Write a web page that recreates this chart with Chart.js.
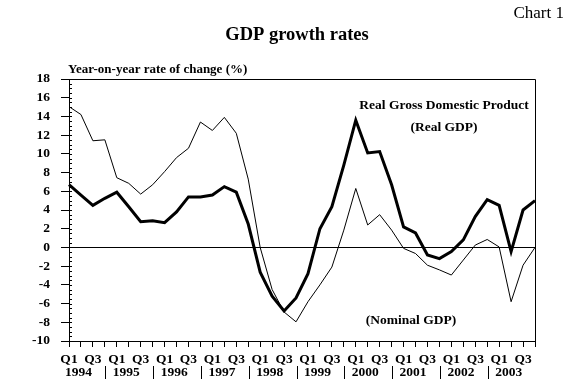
<!DOCTYPE html>
<html>
<head>
<meta charset="utf-8">
<script src="https://cdn.jsdelivr.net/npm/chart.js@4/dist/chart.umd.min.js"></script>
<style>
  html, body { margin: 0; padding: 0; background: #fff; }
  #wrap { width: 575px; height: 390px; }
</style>
</head>
<body>
<div id="wrap"><canvas id="gdpChart" width="575" height="390"></canvas></div>
<script>
const years = ['1994', '1995', '1996', '1997', '1998', '1999', '2000', '2001', '2002', '2003'];
const quarters = ['Q1', 'Q2', 'Q3', 'Q4'];
const realGdp = [
  6.7, 5.6, 4.5, 5.25,
  5.9, 4.35, 2.75, 2.85,
  2.65, 3.8, 5.4, 5.4,
  5.6, 6.5, 5.9, 2.5,
  -2.65, -5.2, -6.8, -5.4,
  -2.8, 2.0, 4.35, 8.8,
  13.6, 10.1, 10.25, 6.7,
  2.2, 1.55, -0.8, -1.2,
  -0.45, 0.8, 3.3, 5.1,
  4.5, -0.45, 4.0, 5.0
];
const nominalGdp = [
  15.05, 14.2, 11.4, 11.5,
  7.45, 6.85, 5.7, 6.7,
  8.1, 9.6, 10.6, 13.4,
  12.5, 13.9, 12.2, 7.3,
  0.0, -4.5, -6.9, -7.95,
  -5.8, -4.0, -2.1, 1.85,
  6.3, 2.4, 3.5, 1.85,
  -0.1, -0.65, -1.9, -2.4,
  -2.95, -1.35, 0.25, 0.85,
  0.05, -5.8, -1.9, 0.0
];
const yMin = -10, yMax = 18;

// one label per quarter, e.g. "Q1 1994"
const labels = [];
years.forEach(yr => quarters.forEach(q => labels.push(q + ' ' + yr)));

const FONT = "'Liberation Serif', 'Times New Roman', serif";

const decor = {
  id: 'decor',
  afterDraw(chart) {
    const { ctx, chartArea: a, scales: { x, y } } = chart;
    ctx.save();
    ctx.strokeStyle = '#000';
    ctx.fillStyle = '#000';
    ctx.lineWidth = 1;

    // top and right edges of the plot frame
    ctx.beginPath();
    ctx.moveTo(a.left, a.top + 0.5);
    ctx.lineTo(a.right + 0.5, a.top + 0.5);
    ctx.lineTo(a.right + 0.5, a.bottom);
    ctx.stroke();

    // small inner ticks on the value axis
    ctx.beginPath();
    for (let v = yMin; v <= yMax; v += 0.5) {
      const py = Math.round(y.getPixelForValue(v)) + 0.5;
      ctx.moveTo(a.left, py);
      ctx.lineTo(a.left + 3, py);
    }
    ctx.stroke();

    // year row and separators under the quarter labels
    const step = x.getPixelForValue(1) - x.getPixelForValue(0);
    ctx.font = 'bold 13.5px ' + FONT;
    ctx.textAlign = 'center';
    ctx.textBaseline = 'middle';
    years.forEach((yr, k) => {
      const px = x.getPixelForValue(k * 4);
      ctx.fillText(yr, px + 0.8 * step, 373);
      if (k > 0) {
        const sx = Math.round(px - 0.95 * step) + 0.5;
        ctx.beginPath();
        ctx.moveTo(sx, 366);
        ctx.lineTo(sx, 379);
        ctx.stroke();
      }
    });

    // titles
    ctx.font = '17px ' + FONT;
    ctx.textAlign = 'right';
    ctx.fillText('Chart 1', 564, 14);
    ctx.font = 'bold 18.5px ' + FONT;
    ctx.textAlign = 'center';
    ctx.fillText('GDP growth rates', 297, 35);
    ctx.font = 'bold 13px ' + FONT;
    ctx.textAlign = 'left';
    ctx.fillText('Year-on-year rate of change (%)', 68, 70);

    // series notes
    ctx.font = 'bold 13.5px ' + FONT;
    ctx.textAlign = 'center';
    ctx.fillText('Real Gross Domestic Product', 444, 106);
    ctx.fillText('(Real GDP)', 444, 128);
    ctx.fillText('(Nominal GDP)', 411, 321);
    ctx.restore();
  }
};

new Chart(document.getElementById('gdpChart').getContext('2d'), {
  type: 'line',
  data: {
    labels: labels,
    datasets: [
      {
        label: 'Nominal GDP',
        data: nominalGdp,
        borderColor: '#000',
        borderWidth: 1,
        pointRadius: 0,
        tension: 0,
        fill: false
      },
      {
        label: 'Real GDP',
        data: realGdp,
        borderColor: '#000',
        borderWidth: 3,
        pointRadius: 0,
        tension: 0,
        fill: false
      }
    ]
  },
  options: {
    responsive: false,
    animation: false,
    layout: { padding: { left: 0, top: 79, right: 40, bottom: 0 } },
    plugins: {
      legend: { display: false },
      tooltip: { enabled: false },
      title: { display: false }
    },
    scales: {
      x: {
        type: 'category',
        offset: false,
        afterFit: s => { s.height = 49; },
        border: { display: true, color: '#000', width: 1 },
        grid: {
          offset: false,
          drawOnChartArea: false,
          tickLength: 6,
          tickColor: '#000'
        },
        ticks: {
          autoSkip: false,
          maxRotation: 0,
          minRotation: 0,
          padding: 4,
          color: '#000',
          font: { family: FONT, size: 13.5, weight: 'bold' },
          callback: function (val, i) {
            const q = i % 4;
            return q === 0 ? 'Q1' : (q === 2 ? 'Q3' : '');
          }
        }
      },
      y: {
        min: yMin,
        max: yMax,
        afterFit: s => { s.width = 69; },
        border: { display: true, color: '#000', width: 1 },
        grid: {
          drawOnChartArea: true,
          color: c => (c.tick && c.tick.value === 0 ? '#000' : 'rgba(0,0,0,0)'),
          tickColor: '#000',
          tickLength: 8
        },
        ticks: {
          stepSize: 2,
          autoSkip: false,
          padding: 11,
          color: '#000',
          font: { family: FONT, size: 13.5, weight: 'bold' }
        }
      }
    }
  },
  plugins: [decor]
});
</script>
</body>
</html>
